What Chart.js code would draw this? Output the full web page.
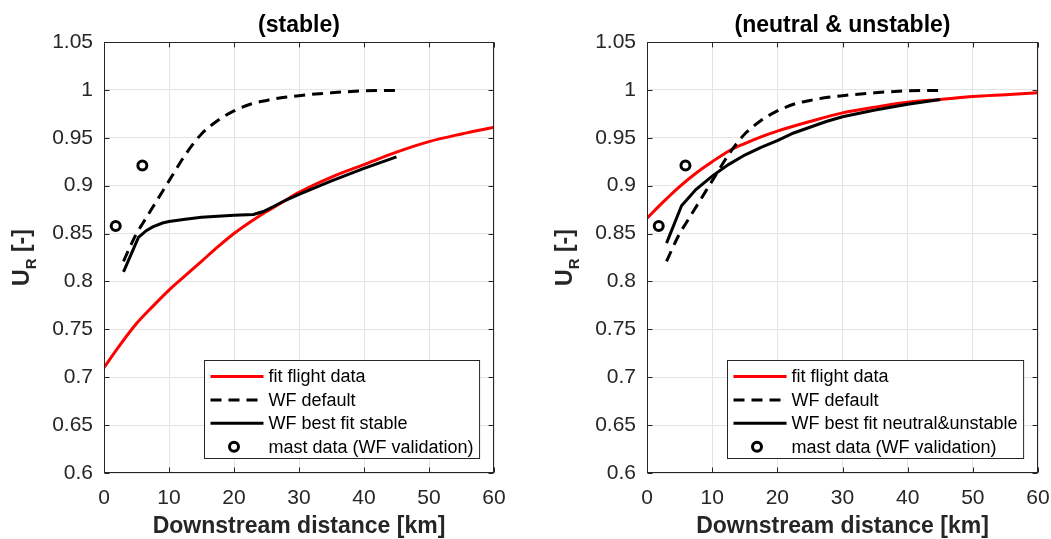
<!DOCTYPE html>
<html>
<head>
<meta charset="utf-8">
<title>Wind speed recovery behind wind farms</title>
<script src="https://cdn.jsdelivr.net/npm/chart.js@4.4.1/dist/chart.umd.min.js"></script>
<style>
  html, body { margin: 0; padding: 0; background: #fff; }
  #wrap { position: relative; width: 1051px; height: 539px; overflow: hidden; }
  canvas { position: absolute; top: 0; }
  #stableChart { left: 0; }
  #neutralChart { left: 525px; }
</style>
</head>
<body>
<div id="wrap">
  <canvas id="stableChart" width="525" height="539"></canvas>
  <canvas id="neutralChart" width="526" height="539"></canvas>
</div>
<script>
// U_R (wind speed ratio) vs. distance downstream, stable and neutral/unstable cases
const FONT = "'Liberation Sans', Arial, Helvetica, sans-serif";
const AXIS_GREY = '#262626';

const xTicks = [0, 10, 20, 30, 40, 50, 60];
const yTicks = [0.6, 0.65, 0.7, 0.75, 0.8, 0.85, 0.9, 0.95, 1, 1.05];

// stable
const stableFitKm = [0, 2.5, 5, 7.5, 10, 12.5, 15, 17.5, 20, 22.5, 25, 27.5, 30, 35, 40, 45, 50, 55, 60];
const stableFitUR = [0.71, 0.734, 0.756, 0.774, 0.791, 0.806, 0.821, 0.836, 0.85, 0.862, 0.873, 0.883, 0.893, 0.909, 0.922, 0.935, 0.946, 0.954, 0.961];
const stableBestKm = [3, 5.3, 6.5, 7.5, 9, 10, 12.5, 15, 20, 23, 24.5, 26, 28, 30, 35, 40, 45];
const stableBestUR = [0.81, 0.846, 0.853, 0.857, 0.861, 0.8625, 0.865, 0.867, 0.869, 0.87, 0.873, 0.878, 0.885, 0.891, 0.905, 0.918, 0.93];

// WF default run, same curve in both panels
const defaultKm = [3, 4, 5, 6, 7, 8, 9, 10, 11, 12, 13, 14, 15, 17.5, 20, 22.5, 25, 27.5, 30, 35, 40, 45];
const defaultUR = [0.821, 0.836, 0.85, 0.861, 0.872, 0.883, 0.894, 0.905, 0.916, 0.927, 0.937, 0.946, 0.954, 0.968, 0.978, 0.985, 0.989, 0.992, 0.994, 0.997, 0.999, 0.9995];

// neutral & unstable
const neutralFitKm = [0, 2.5, 5, 7.5, 10, 12.5, 15, 17.5, 20, 25, 30, 35, 40, 45, 50, 55, 60];
const neutralFitUR = [0.866, 0.883, 0.899, 0.913, 0.925, 0.936, 0.944, 0.951, 0.957, 0.967, 0.976, 0.982, 0.987, 0.99, 0.993, 0.995, 0.997];
const neutralBestKm = [3, 5.3, 7.5, 10, 12.5, 15, 17.5, 20, 22.5, 25, 27.5, 30, 35, 40, 45];
const neutralBestUR = [0.84, 0.879, 0.896, 0.91, 0.922, 0.932, 0.94, 0.947, 0.955, 0.961, 0.967, 0.972, 0.979, 0.985, 0.99];

// mast measurements
const mastKm = [1.8, 5.9];
const mastUR = [0.858, 0.921];

const xy = (xs, ys) => xs.map((x, i) => ({ x, y: ys[i] }));

// box, inner tick marks, title, y label with subscript and a boxed legend (southeast)
const framePlugin = {
  id: 'frame',
  afterDraw(chart, args, opts) {
    const { ctx, chartArea: a, scales } = chart;
    ctx.save();
    ctx.strokeStyle = AXIS_GREY;
    ctx.lineWidth = 1;
    const L = Math.round(a.left) + 0.5, R = Math.round(a.right) - 0.5;
    const T = Math.round(a.top) + 0.5, B = Math.round(a.bottom) - 0.5;
    ctx.strokeRect(L, T, R - L, B - T);
    ctx.beginPath();
    xTicks.forEach(v => {
      const px = Math.round(scales.x.getPixelForValue(v)) + 0.5;
      ctx.moveTo(px, B); ctx.lineTo(px, B - 5);
      ctx.moveTo(px, T); ctx.lineTo(px, T + 5);
    });
    yTicks.forEach(v => {
      const py = Math.round(scales.y.getPixelForValue(v)) + 0.5;
      ctx.moveTo(L, py); ctx.lineTo(L + 5, py);
      ctx.moveTo(R, py); ctx.lineTo(R - 5, py);
    });
    ctx.stroke();

    // title
    ctx.fillStyle = '#000';
    ctx.font = `bold 23px ${FONT}`;
    ctx.textAlign = 'center';
    ctx.textBaseline = 'alphabetic';
    ctx.fillText(opts.title, (a.left + a.right) / 2, 32);

    // y label: U_R [-]
    ctx.save();
    ctx.translate(opts.yTitleX, (a.top + a.bottom) / 2);
    ctx.rotate(-Math.PI / 2);
    ctx.fillStyle = AXIS_GREY;
    ctx.textAlign = 'left';
    const big = `bold 23px ${FONT}`, small = `bold 15px ${FONT}`;
    ctx.font = big; const wU = ctx.measureText('U').width; const wRest = ctx.measureText(' [-]').width;
    ctx.font = small; const wR = ctx.measureText('R').width;
    let x0 = -(wU + wR + wRest) / 2;
    ctx.font = big; ctx.fillText('U', x0, 0);
    ctx.font = small; ctx.fillText('R', x0 + wU, 7);
    ctx.font = big; ctx.fillText(' [-]', x0 + wU + wR, 0);
    ctx.restore();

    // legend
    const sets = chart.data.datasets;
    ctx.font = `18px ${FONT}`;
    const textW = Math.max(...sets.map(d => ctx.measureText(d.label).width));
    const lineLen = 53;
    const boxW = 6 + lineLen + 5 + textW + 6;
    const boxH = 98;
    const bx = Math.round(a.right - 15 - boxW) + 0.5;
    const by = Math.round(a.bottom - 15 - boxH) + 0.5;
    ctx.fillStyle = '#fff';
    ctx.fillRect(bx, by, boxW, boxH);
    ctx.strokeStyle = AXIS_GREY;
    ctx.lineWidth = 1;
    ctx.setLineDash([]);
    ctx.strokeRect(bx, by, boxW, boxH);
    sets.forEach((d, i) => {
      const cy = by + 16 + i * 23.4;
      const lx = bx + 6;
      if (d.showLine === false) {
        ctx.setLineDash([]);
        ctx.strokeStyle = d.pointBorderColor;
        ctx.lineWidth = d.pointBorderWidth;
        ctx.beginPath();
        ctx.arc(lx + lineLen / 2 - 3, cy, d.pointRadius, 0, Math.PI * 2);
        ctx.stroke();
      } else {
        ctx.setLineDash(d.borderDash || []);
        ctx.strokeStyle = d.borderColor;
        ctx.lineWidth = d.borderWidth;
        ctx.beginPath();
        ctx.moveTo(lx, cy); ctx.lineTo(lx + lineLen, cy);
        ctx.stroke();
      }
      ctx.setLineDash([]);
      ctx.fillStyle = '#000';
      ctx.textAlign = 'left';
      ctx.textBaseline = 'middle';
      ctx.fillText(d.label, lx + lineLen + 5, cy + 1);
    });
    ctx.restore();
  }
};

function makeDatasets(fitKm, fitUR, bestKm, bestUR, bestLabel) {
  return [
    { label: 'fit flight data', data: xy(fitKm, fitUR), borderColor: '#ff0000', borderWidth: 3,
      pointRadius: 0, cubicInterpolationMode: 'monotone', order: 3 },
    { label: 'WF default', data: xy(defaultKm, defaultUR), borderColor: '#000', borderWidth: 3,
      borderDash: [11, 7], pointRadius: 0, cubicInterpolationMode: 'monotone', order: 2 },
    { label: bestLabel, data: xy(bestKm, bestUR), borderColor: '#000', borderWidth: 3,
      pointRadius: 0, tension: 0, order: 1 },
    { label: 'mast data (WF validation)', data: xy(mastKm, mastUR), showLine: false,
      pointRadius: 4.5, pointBorderWidth: 3, pointBorderColor: '#000',
      pointBackgroundColor: 'rgba(0,0,0,0)', order: 0 }
  ];
}

function makeChart(id, datasets, title, axisWidth, padRight, yTitleX) {
  return new Chart(document.getElementById(id), {
    type: 'line',
    data: { datasets },
    plugins: [framePlugin],
    options: {
      responsive: false,
      animation: false,
      events: [],
      layout: { padding: { left: 0, right: padRight, top: 42, bottom: 0 } },
      plugins: {
        legend: { display: false },
        tooltip: { enabled: false },
        frame: { title, yTitleX }
      },
      scales: {
        x: {
          type: 'linear', min: 0, max: 60,
          afterBuildTicks: s => { s.ticks = xTicks.map(v => ({ value: v })); },
          // fixed axis height; end labels may run into the side padding
          afterFit: s => { s.height = 66; s.paddingLeft = 0; s.paddingRight = 0; },
          ticks: { color: AXIS_GREY, font: { family: FONT, size: 21 }, padding: 13, maxRotation: 0 },
          grid: { color: '#e4e4e4', drawTicks: false },
          border: { display: false },
          title: { display: true, text: 'Downstream distance [km]', color: AXIS_GREY,
                   font: { family: FONT, size: 23, weight: 'bold', lineHeight: 1.05 }, padding: 0 }
        },
        y: {
          type: 'linear', min: 0.6, max: 1.05,
          afterBuildTicks: s => { s.ticks = yTicks.map(v => ({ value: v })); },
          afterFit: s => { s.width = axisWidth; },
          ticks: { color: AXIS_GREY, font: { family: FONT, size: 21 }, padding: 11,
                   callback: v => String(+v.toFixed(2)) },
          grid: { color: '#e4e4e4', drawTicks: false },
          border: { display: false }
        }
      }
    }
  });
}

makeChart('stableChart',
  makeDatasets(stableFitKm, stableFitUR, stableBestKm, stableBestUR, 'WF best fit stable'),
  '(stable)', 104, 31, 29);
makeChart('neutralChart',
  makeDatasets(neutralFitKm, neutralFitUR, neutralBestKm, neutralBestUR, 'WF best fit neutral&unstable'),
  '(neutral & unstable)', 122, 13, 47);
</script>
</body>
</html>
